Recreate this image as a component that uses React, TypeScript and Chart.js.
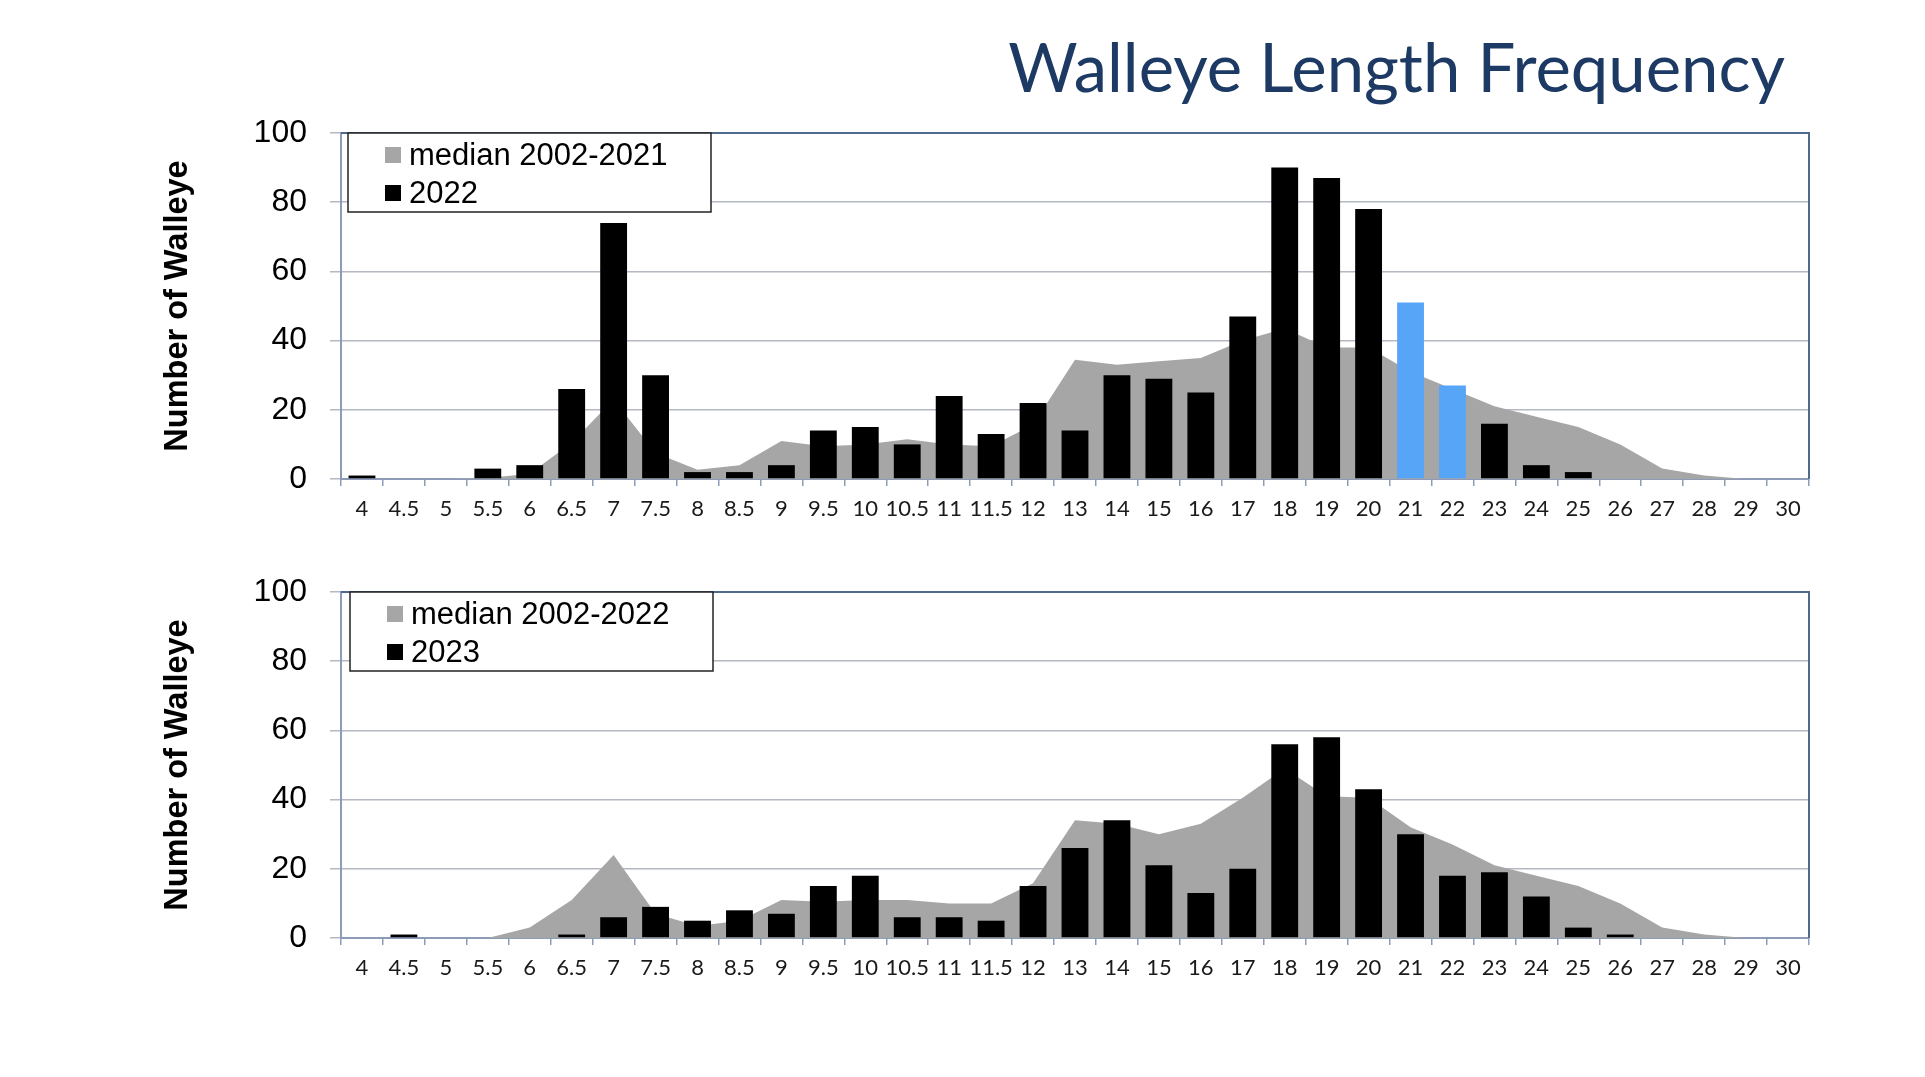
import React, { useEffect, useRef } from 'react';
import { Chart, registerables } from 'chart.js';

Chart.register(...registerables);

// ---------- data ----------
const lengthLabels = [
  '4', '4.5', '5', '5.5', '6', '6.5', '7', '7.5', '8', '8.5', '9', '9.5', '10', '10.5', '11', '11.5', '12',
  '13', '14', '15', '16', '17', '18', '19', '20', '21', '22', '23', '24', '25', '26', '27', '28', '29', '30',
];

const median2002to2021 = [
  0, 0, 0, 0.3, 1.5, 10.5, 23, 7.5, 2.7, 4, 11, 9.5, 10, 11.5, 10, 9.5, 15.7,
  34.5, 33, 34, 35, 40, 43.5, 38, 38, 31, 26, 21, 18, 15, 10, 3, 1, 0, 0,
];
const count2022 = [
  1, 0, 0, 3, 4, 26, 74, 30, 2, 2, 4, 14, 15, 10, 24, 13, 22,
  14, 30, 29, 25, 47, 90, 87, 78, 51, 27, 16, 4, 2, 0, 0, 0, 0, 0,
];
const highlighted2022 = ['21', '22'];

const median2002to2022 = [
  0, 0, 0, 0, 3, 11, 24, 7, 3.5, 5, 11, 10.5, 11, 11, 10, 10, 15.8,
  34, 33, 30, 33, 40.5, 49, 41, 40.5, 32, 27, 21, 18, 15, 10, 3, 1, 0, 0,
];
const count2023 = [
  0, 1, 0, 0, 0, 1, 6, 9, 5, 8, 7, 15, 18, 6, 6, 5, 15,
  26, 34, 21, 13, 20, 56, 58, 43, 30, 18, 19, 12, 3, 1, 0, 0, 0, 0,
];

const yTicks = [0, 20, 40, 60, 80, 100];

const titleText = 'Walleye Length Frequency';
const yAxisTitle = 'Number of Walleye';

// ---------- styles ----------
const GREY = '#A6A6A6';
const BLACK = '#000000';
const BLUE = '#57A5F7';
const GRID = '#B3B8C2';
const AXIS = '#8D9BB8';
const FRAME = '#4F6A8C';
const TITLE_COLOR = '#1D3A64';

const W = 1925;

const framePlugin = {
  id: 'frame',
  afterDatasetsDraw(chart: any) {
    const { ctx, chartArea: a } = chart;
    ctx.save();
    ctx.strokeStyle = FRAME;
    ctx.lineWidth = 2;
    ctx.beginPath();
    ctx.moveTo(a.left, a.top);
    ctx.lineTo(a.right, a.top);
    ctx.lineTo(a.right, a.bottom);
    ctx.stroke();
    ctx.restore();
  },
};

const legendBoxPlugin = {
  id: 'legendBox',
  afterDraw(chart: any, _args: any, opts: any) {
    const { ctx, chartArea: a } = chart;
    const x = a.left + opts.offsetX;
    const y = a.top;
    const w = opts.width;
    const h = opts.height;
    ctx.save();
    ctx.fillStyle = '#ffffff';
    ctx.fillRect(x, y, w, h);
    ctx.strokeStyle = '#222222';
    ctx.lineWidth = 1.5;
    ctx.strokeRect(x, y, w, h);
    ctx.font = '31px "Liberation Sans", Arial, sans-serif';
    ctx.textBaseline = 'middle';
    ctx.textAlign = 'left';
    chart.data.datasets.forEach((ds: any, i: number) => {
      const cy = y + opts.rowCenters[i];
      const bg = Array.isArray(ds.backgroundColor) ? ds.backgroundColor[0] : ds.backgroundColor;
      ctx.fillStyle = bg;
      ctx.fillRect(x + 37, cy - 8, 16, 16);
      ctx.fillStyle = '#000000';
      ctx.fillText(ds.label, x + 61, cy + 1);
    });
    ctx.restore();
  },
};

function makeConfig(p: {
  medianLabel: string;
  median: number[];
  yearLabel: string;
  counts: number[];
  barColors: string[];
  areaTop: number;
  xAxisHeight: number;
  legendOffsetX: number;
}): any {
  return {
    type: 'bar',
    data: {
      labels: lengthLabels,
      datasets: [
        {
          type: 'line',
          label: p.medianLabel,
          data: p.median,
          fill: 'origin',
          backgroundColor: GREY,
          borderWidth: 0,
          borderColor: 'rgba(0,0,0,0)',
          pointRadius: 0,
          tension: 0,
          order: 2,
        },
        {
          type: 'bar',
          label: p.yearLabel,
          data: p.counts,
          backgroundColor: p.barColors,
          borderWidth: 0,
          barPercentage: 0.64,
          categoryPercentage: 1,
          order: 1,
        },
      ],
    },
    options: {
      animation: false,
      responsive: false,
      events: [],
      layout: { padding: { left: 0, right: 116, top: p.areaTop, bottom: 0 } },
      plugins: {
        legend: { display: false },
        tooltip: { enabled: false },
        title: { display: false },
        legendBox: { offsetX: p.legendOffsetX, width: 363, height: 79, rowCenters: [22, 60] },
      },
      scales: {
        x: {
          offset: true,
          grid: {
            display: true,
            offset: true,
            drawOnChartArea: false,
            drawTicks: true,
            tickLength: 7,
            color: AXIS,
            lineWidth: 1.5,
          },
          border: { display: true, color: AXIS, width: 2 },
          ticks: {
            font: { family: 'Lato', size: 22 },
            color: '#1a1a1a',
            padding: 10,
            maxRotation: 0,
            minRotation: 0,
            autoSkip: false,
          },
          afterFit: (s: any) => {
            s.height = p.xAxisHeight;
          },
        },
        y: {
          min: yTicks[0],
          max: yTicks[yTicks.length - 1],
          ticks: {
            stepSize: yTicks[1] - yTicks[0],
            font: { family: '"Liberation Sans", Arial, sans-serif', size: 32 },
            color: '#000000',
            padding: 23,
          },
          grid: {
            color: GRID,
            lineWidth: 1.5,
            drawTicks: true,
            tickLength: 11,
          },
          border: { display: true, color: AXIS, width: 2 },
          title: {
            display: true,
            text: yAxisTitle,
            color: '#000000',
            font: { family: '"Liberation Sans", Arial, sans-serif', size: 32.5, weight: 'bold' },
            padding: { top: 159, bottom: 0 },
          },
          afterFit: (s: any) => {
            s.width = 341;
          },
        },
      },
    },
    plugins: [framePlugin, legendBoxPlugin],
  };
}

export default function App() {
  const topRef = useRef<HTMLCanvasElement | null>(null);
  const bottomRef = useRef<HTMLCanvasElement | null>(null);

  useEffect(() => {
    document.body.style.margin = '0';
    document.body.style.overflow = 'hidden';
    document.body.style.background = '#ffffff';

    const colors2022 = lengthLabels.map((l) => (highlighted2022.includes(l) ? BLUE : BLACK));
    const colors2023 = lengthLabels.map(() => BLACK);

    const top = new Chart(
      topRef.current as HTMLCanvasElement,
      makeConfig({
        medianLabel: 'median 2002-2021',
        median: median2002to2021,
        yearLabel: '2022',
        counts: count2022,
        barColors: colors2022,
        areaTop: 133,
        xAxisHeight: 540 - 479,
        legendOffsetX: 7,
      })
    );
    const bottom = new Chart(
      bottomRef.current as HTMLCanvasElement,
      makeConfig({
        medianLabel: 'median 2002-2022',
        median: median2002to2022,
        yearLabel: '2023',
        counts: count2023,
        barColors: colors2023,
        areaTop: 52,
        xAxisHeight: 537 - 398,
        legendOffsetX: 9,
      })
    );
    return () => {
      top.destroy();
      bottom.destroy();
    };
  }, []);

  return (
    <div style={{ position: 'relative', width: W, height: 1077, background: '#ffffff', overflow: 'hidden' }}>
      <div
        style={{
          position: 'absolute',
          right: 140,
          top: 33,
          fontFamily: 'Lato, sans-serif',
          fontSize: 67,
          lineHeight: '67px',
          color: TITLE_COLOR,
          whiteSpace: 'nowrap',
        }}
      >
        {titleText}
      </div>
      <canvas
        ref={topRef}
        width={W}
        height={540}
        style={{ position: 'absolute', left: 0, top: 0, width: W, height: 540 }}
      />
      <canvas
        ref={bottomRef}
        width={W}
        height={537}
        style={{ position: 'absolute', left: 0, top: 540, width: W, height: 537 }}
      />
    </div>
  );
}
